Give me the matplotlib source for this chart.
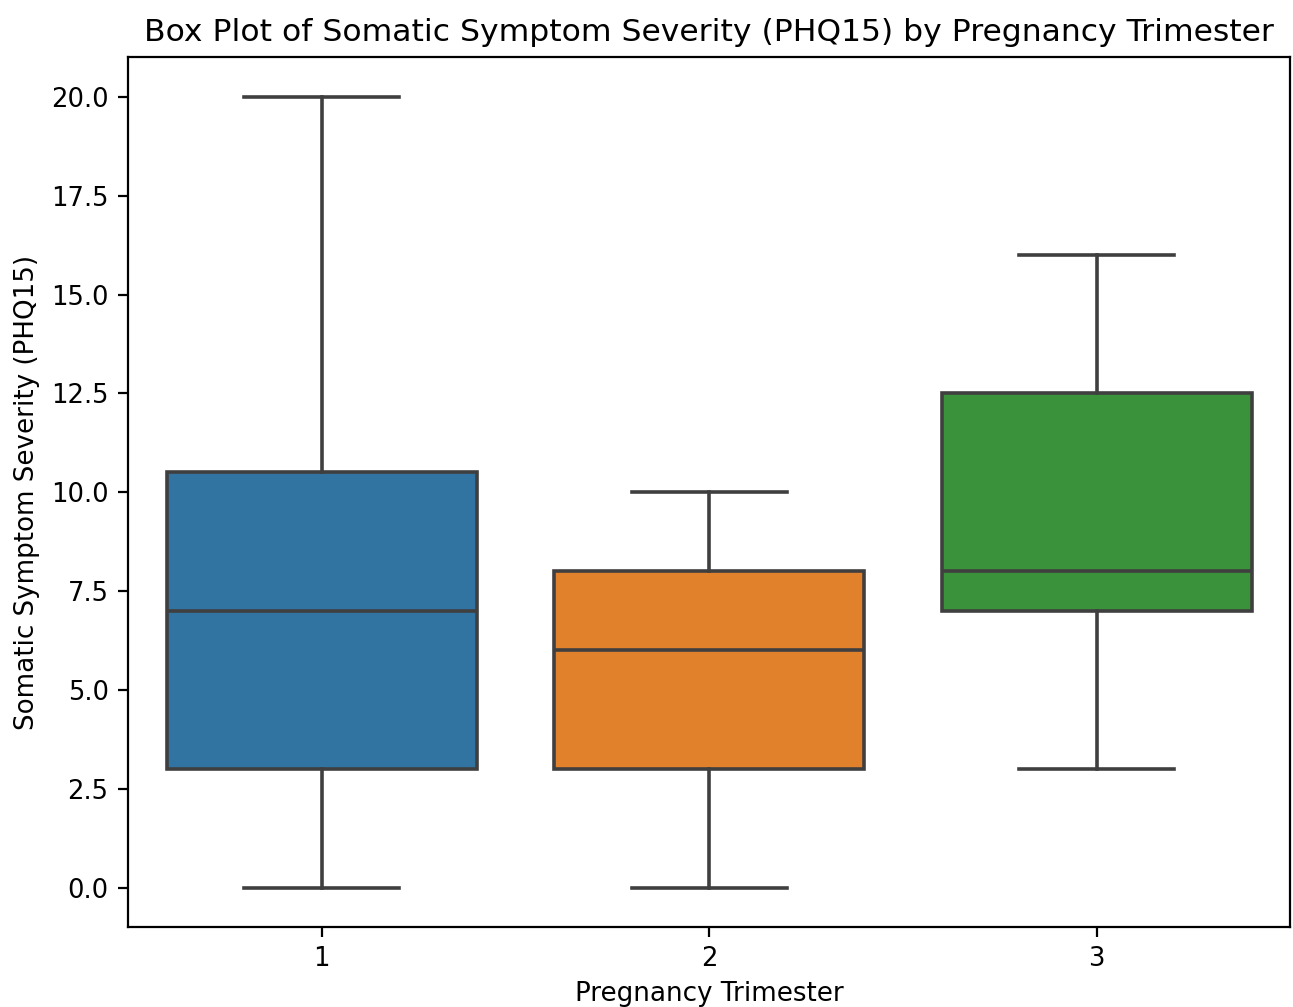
import matplotlib
matplotlib.use("Agg")
import matplotlib.pyplot as plt

trimesters = ["1", "2", "3"]
whisker_low = [0, 0, 3]
q1 = [3, 3, 7]
median = [7, 6, 8]
q3 = [10.5, 8, 12.5]
whisker_high = [20, 10, 16]
colors = ["#3274a1", "#e1812c", "#3a923a"]

fig = plt.figure(figsize=(6.465, 5.035), dpi=200)
ax = fig.add_axes([0.099, 0.0794, 0.899, 0.8636])

stats = []
for i, t in enumerate(trimesters):
    stats.append({"label": t, "whislo": whisker_low[i], "q1": q1[i], "med": median[i],
                  "q3": q3[i], "whishi": whisker_high[i], "fliers": []})

line_color = "#3f3f3f"
lw = 1.3
bp = ax.bxp(stats, positions=range(len(trimesters)), widths=0.8, capwidths=0.4,
            patch_artist=True, showfliers=False,
            boxprops=dict(edgecolor=line_color, linewidth=lw),
            whiskerprops=dict(color=line_color, linewidth=lw),
            capprops=dict(color=line_color, linewidth=lw),
            medianprops=dict(color=line_color, linewidth=lw))
for patch, c in zip(bp["boxes"], colors):
    patch.set_facecolor(c)

ax.set_xlim(-0.5, 2.5)
ax.set_ylim(-1, 21)
ax.set_yticks([0, 2.5, 5, 7.5, 10, 12.5, 15, 17.5, 20])
ax.set_yticklabels(["0.0", "2.5", "5.0", "7.5", "10.0", "12.5", "15.0", "17.5", "20.0"])
ax.tick_params(labelsize=9.3)
ax.set_title("Box Plot of Somatic Symptom Severity (PHQ15) by Pregnancy Trimester", fontsize=11.3)
ax.set_xlabel("Pregnancy Trimester", fontsize=9.4, labelpad=3)
ax.set_ylabel("Somatic Symptom Severity (PHQ15)", fontsize=9.4)

fig.savefig("out.png", dpi=200)
